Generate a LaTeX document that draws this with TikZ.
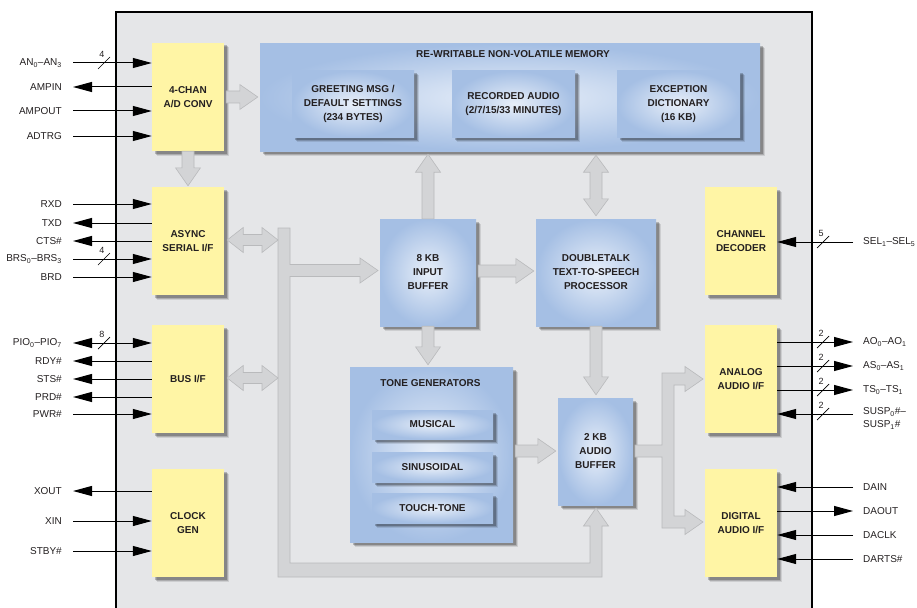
\documentclass[tikz,border=0pt]{standalone}
\usepackage{fontspec}
\setmainfont{Liberation Sans}
\usetikzlibrary{arrows.meta,shadows,calc}
\definecolor{framebg}{HTML}{E5E6E8}
\definecolor{ylw}{HTML}{FFF5A5}
\definecolor{bluee}{HTML}{A5BFE4}
\definecolor{bluec}{HTML}{E8EFF9}
\definecolor{fatf}{HTML}{D3D4D6}
\definecolor{fatd}{HTML}{B9BABC}
\definecolor{txt}{HTML}{231F20}

% fat block arrows
\newcommand\fatR[2]{\path[fatarrow] let \p1=(#1), \p2=(#2) in (\x1,\y1+6pt) -- (\x2-18pt,\y1+6pt) -- (\x2-18pt,\y1+12.5pt) -- (\x2,\y1) -- (\x2-18pt,\y1-12.5pt) -- (\x2-18pt,\y1-6pt) -- (\x1,\y1-6pt) -- cycle;}
\newcommand\fatD[2]{\path[fatarrow] let \p1=(#1), \p2=(#2) in (\x1-6pt,\y1) -- (\x1-6pt,\y2+18pt) -- (\x1-12.5pt,\y2+18pt) -- (\x1,\y2) -- (\x1+12.5pt,\y2+18pt) -- (\x1+6pt,\y2+18pt) -- (\x1+6pt,\y1) -- cycle;}
\newcommand\fatU[2]{\path[fatarrow] let \p1=(#1), \p2=(#2) in (\x1-6pt,\y1) -- (\x1-6pt,\y2-18pt) -- (\x1-12.5pt,\y2-18pt) -- (\x1,\y2) -- (\x1+12.5pt,\y2-18pt) -- (\x1+6pt,\y2-18pt) -- (\x1+6pt,\y1) -- cycle;}
\newcommand\fatHH[2]{\path[fatarrow] let \p1=(#1), \p2=(#2) in (\x1,\y1) -- (\x1+16pt,\y1+12.5pt) -- (\x1+16pt,\y1+5.5pt) -- (\x2-16pt,\y1+5.5pt) -- (\x2-16pt,\y1+12.5pt) -- (\x2,\y1) -- (\x2-16pt,\y1-12.5pt) -- (\x2-16pt,\y1-5.5pt) -- (\x1+16pt,\y1-5.5pt) -- (\x1+16pt,\y1-12.5pt) -- cycle;}
\newcommand\fatVV[2]{\path[fatarrow] let \p1=(#1), \p2=(#2) in (\x1,\y1) -- (\x1+12.5pt,\y1-17pt) -- (\x1+6pt,\y1-17pt) -- (\x1+6pt,\y2+17pt) -- (\x1+12.5pt,\y2+17pt) -- (\x1,\y2) -- (\x1-12.5pt,\y2+17pt) -- (\x1-6pt,\y2+17pt) -- (\x1-6pt,\y1-17pt) -- (\x1-12.5pt,\y1-17pt) -- cycle;}

% pins: left side
\newcommand\lin[3]{\coordinate (#1) at (73,#2); \draw[sig,->] (#1) -- (#1 -| #3.west);}
\newcommand\lout[3]{\coordinate (#1) at (73,#2); \draw[sig,<-] (#1) -- (#1 -| #3.west);}
\newcommand\lboth[3]{\coordinate (#1) at (73,#2); \draw[sig,<->] (#1) -- (#1 -| #3.west);}
\newcommand\llab[3]{\node[pinlabL] (#1) at (62,#2) {#3};}
% pins: right side
\newcommand\rin[3]{\coordinate (#1) at (853,#2); \draw[sig,->] (#1) -- (#1 -| #3.east);}
\newcommand\rout[3]{\coordinate (#1) at (853,#2); \draw[sig,<-] (#1) -- (#1 -| #3.east);}
\newcommand\rlab[3]{\node[pinlabR] (#1) at (863,#2) {#3};}
% bus-width slash
\newcommand\busw[4]{\draw[line width=0.7pt] (#2-6,#3+6) -- (#2+6,#3-6); \node[slashnum] (#1) at (#2-2,#3-9) {#4};}

\begin{document}
\begin{tikzpicture}[x=1pt,y=-1pt,
  >={Triangle[length=19pt,width=10pt]},
  sig/.style={line width=1pt, draw=black},
  pinlabL/.style={anchor=east, inner sep=0pt, text=txt, font=\fontsize{10}{13}\selectfont},
  pinlabR/.style={anchor=west, inner sep=0pt, text=txt, font=\fontsize{10}{13}\selectfont, align=left},
  slashnum/.style={inner sep=0pt, text=txt, font=\fontsize{9}{10}\selectfont},
  shadowed/.style={
     drop shadow={shadow xshift=4.5pt, shadow yshift=-4.5pt, fill=black, opacity=.10},
     drop shadow={shadow xshift=3.5pt, shadow yshift=-3.5pt, fill=black, opacity=.16},
     drop shadow={shadow xshift=2.5pt, shadow yshift=-2.5pt, fill=black, opacity=.22}},
  ybox/.style={fill=ylw, minimum width=72pt, minimum height=108pt, inner sep=0pt, align=center,
     font=\fontsize{10}{14}\selectfont\bfseries, text=txt, shadowed},
  bbox/.style={shading=radial, inner color=bluec, outer color=bluee, inner sep=0pt, align=center,
     font=\fontsize{10}{14}\selectfont\bfseries, text=txt, shadowed},
  btitle/.style={inner sep=0pt, font=\fontsize{10}{12}\selectfont\bfseries, text=txt},
  fatarrow/.style={fill=fatf, draw=fatd, line width=0.6pt, line join=miter}
]
\useasboundingbox (0,0) rectangle (917,607);
\clip (0,0) rectangle (917,607);
\draw[line width=2pt, fill=framebg] (116,12) rectangle (812,625);

% yellow interface blocks
\node[ybox] (ad)      at (188,97)  {4-CHAN\\A/D CONV};
\node[ybox] (async)   at (188,241) {ASYNC\\SERIAL I/F};
\node[ybox] (bus)     at (188,379) {BUS I/F};
\node[ybox] (clk)     at (188,523) {CLOCK\\GEN};
\node[ybox] (chan)    at (741,241) {CHANNEL\\DECODER};
\node[ybox] (analog)  at (741,379) {ANALOG\\AUDIO I/F};
\node[ybox] (digital) at (741,523) {DIGITAL\\AUDIO I/F};

% memory
\node[bbox, minimum width=500pt, minimum height=107pt] (mem) at (510,97.5) {};
\node[btitle] (memt) at (513,54) {RE-WRITABLE NON-VOLATILE MEMORY};
\node[bbox, minimum width=122pt, minimum height=66pt] (greet) at (353,104) {GREETING MSG /\\DEFAULT SETTINGS\\(234 BYTES)};
\node[bbox, minimum width=123pt, minimum height=66pt] (rec) at (513.5,104) {RECORDED AUDIO\\(2/7/15/33 MINUTES)};
\node[bbox, minimum width=123pt, minimum height=66pt] (exc) at (678.5,104) {EXCEPTION\\DICTIONARY\\(16 KB)};

% core blocks
\node[bbox, minimum width=96pt, minimum height=107pt] (inbuf) at (428,272.5) {8 KB\\INPUT\\BUFFER};
\node[bbox, minimum width=120pt, minimum height=107pt] (dt) at (596,272.5) {DOUBLETALK\\TEXT-TO-SPEECH\\PROCESSOR};
\node[bbox, minimum width=163pt, minimum height=175pt] (tone) at (431.5,454.5) {};
\node[btitle] (tonet) at (430.5,383) {TONE GENERATORS};
\node[bbox, minimum width=121pt, minimum height=29pt] (musical) at (432.5,424.5) {MUSICAL};
\node[bbox, minimum width=121pt, minimum height=30pt] (sinus) at (432.5,467) {SINUSOIDAL};
\node[bbox, minimum width=121pt, minimum height=30pt] (touch) at (432.5,508) {TOUCH-TONE};
\node[bbox, minimum width=75pt, minimum height=107pt] (abuf) at (595.5,451.5) {2 KB\\AUDIO\\BUFFER};

% internal bus
\coordinate (busTL) at (278,228);
\path[fatarrow] (busTL) -- (290,228) -- (290,264.5) -- (360,264.5) -- (360,258) -- (378,270.5) -- (360,283) -- (360,276.5) -- (290,276.5) -- (290,563) -- (590,563) -- (590,526) -- (583.5,526) -- (596,508) -- (608.5,526) -- (602,526) -- (602,577) -- (278,577) -- cycle;

% audio fan-out
\path[fatarrow] (635,445) -- (662,445) -- (662,373) -- (685,373) -- (685,366.5) -- (703,379) -- (685,391.5) -- (685,385) -- (674,385) -- (674,516) -- (685,516) -- (685,509.5) -- (703,522) -- (685,534.5) -- (685,528) -- (662,528) -- (662,457) -- (635,457) -- cycle;

% block arrows
\fatR{$(ad.east)+(2,0)$}{$(mem.west)+(-2,0)$}
\fatD{ad.south}{$(async.north)+(0,-1)$}
\fatHH{$(async.east)+(3,-1)$}{$(async.east -| busTL)+(0,-1)$}
\fatHH{$(bus.east)+(3,-1)$}{$(bus.east -| busTL)+(0,-1)$}
\fatU{inbuf.north}{$(mem.south)+(0,3)$}
\fatD{inbuf.south}{$(tone.north)+(0,-2)$}
\fatVV{$(dt.north |- mem.south)+(0,4)$}{$(dt.north)+(0,-3)$}
\fatR{$(inbuf.east)+(2,-1.5)$}{$(dt.west)+(-2,0)$}
\fatD{dt.south}{$(abuf.north)+(0,-3)$}
\fatR{$(tone.east)+(2,-3.5)$}{$(abuf.west)+(-2,0)$}

% left pins: A/D
\lin{pAN}{63}{ad}      \llab{tAN}{63}{AN\textsubscript{0}–AN\textsubscript{3}}
\busw{wAN}{104}{63}{4}
\lout{pAMPIN}{87}{ad}  \llab{tAMPIN}{87}{AMPIN}
\lin{pAMPOUT}{111}{ad} \llab{tAMPOUT}{111}{AMPOUT}
\lin{pADTRG}{136}{ad}  \llab{tADTRG}{136}{ADTRG}
% async
\lin{pRXD}{204}{async}  \llab{tRXD}{204}{RXD}
\lout{pTXD}{223}{async} \llab{tTXD}{223}{TXD}
\lout{pCTS}{241}{async} \llab{tCTS}{241}{CTS\#}
\lin{pBRS}{259}{async}  \llab{tBRS}{259}{BRS\textsubscript{0}–BRS\textsubscript{3}}
\busw{wBRS}{104}{259}{4}
\lin{pBRD}{277}{async}  \llab{tBRD}{277}{BRD}
% bus
\lboth{pPIO}{343}{bus} \llab{tPIO}{343}{PIO\textsubscript{0}–PIO\textsubscript{7}}
\busw{wPIO}{104}{343}{8}
\lout{pRDY}{361}{bus}  \llab{tRDY}{361}{RDY\#}
\lout{pSTS}{379}{bus}  \llab{tSTS}{379}{STS\#}
\lout{pPRD}{397}{bus}  \llab{tPRD}{397}{PRD\#}
\lin{pPWR}{414}{bus}   \llab{tPWR}{414}{PWR\#}
% clock
\lout{pXOUT}{491}{clk} \llab{tXOUT}{491}{XOUT}
\lin{pXIN}{521}{clk}   \llab{tXIN}{521}{XIN}
\lin{pSTBY}{551}{clk}  \llab{tSTBY}{551}{STBY\#}

% right pins
\rin{pSEL}{242}{chan}    \rlab{tSEL}{242}{SEL\textsubscript{1}–SEL\textsubscript{5}}
\busw{wSEL}{823}{242}{5}
\rout{pAO}{342}{analog}  \rlab{tAO}{342}{AO\textsubscript{0}–AO\textsubscript{1}}
\busw{wAO}{823}{342}{2}
\rout{pAS}{366}{analog}  \rlab{tAS}{366}{AS\textsubscript{0}–AS\textsubscript{1}}
\busw{wAS}{823}{366}{2}
\rout{pTS}{390}{analog}  \rlab{tTS}{390}{TS\textsubscript{0}–TS\textsubscript{1}}
\busw{wTS}{823}{390}{2}
\rin{pSUSP}{414}{analog} \rlab{tSUSP}{418.5}{SUSP\textsubscript{0}\#–\\SUSP\textsubscript{1}\#}
\busw{wSUSP}{823}{414}{2}
\rin{pDAIN}{487}{digital}   \rlab{tDAIN}{487}{DAIN}
\rout{pDAOUT}{511}{digital} \rlab{tDAOUT}{511}{DAOUT}
\rin{pDACLK}{535}{digital}  \rlab{tDACLK}{535}{DACLK}
\rin{pDARTS}{559}{digital}  \rlab{tDARTS}{559}{DARTS\#}
\end{tikzpicture}
\end{document}
